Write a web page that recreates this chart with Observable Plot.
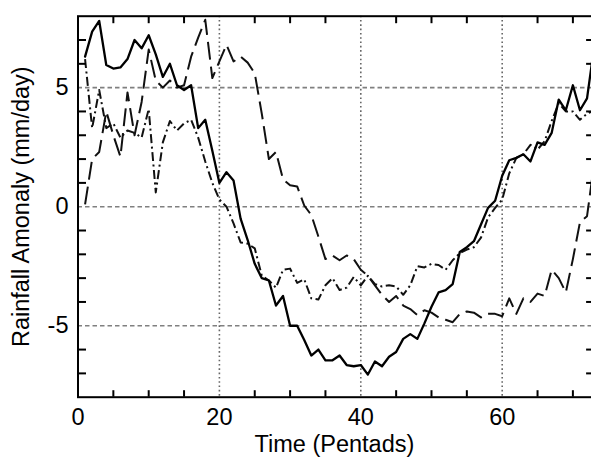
<!DOCTYPE html>
<html><head><meta charset="utf-8">
<script src="https://cdn.jsdelivr.net/npm/d3@7"></script>
<script src="https://cdn.jsdelivr.net/npm/@observablehq/plot@0.6"></script>
<style>
html,body{margin:0;padding:0;background:#fff;overflow:hidden;}
#chart svg{overflow:hidden;}
</style></head><body><div id="chart"></div>
<script>
// Rainfall anomaly (mm/day) per pentad 1..73, three series
const solidSeries = [6.3,7.35,7.8,5.95,5.8,5.85,6.2,7.0,6.65,7.2,6.4,5.45,6.0,5.1,4.9,5.1,3.3,3.65,2.35,1.0,
  1.45,1.1,-0.5,-1.4,-2.4,-3.0,-3.1,-4.15,-3.75,-5.0,-5.0,-5.6,-6.25,-6.0,-6.45,-6.45,-6.25,-6.65,-6.7,-6.65,
  -7.05,-6.5,-6.7,-6.3,-6.1,-5.55,-5.35,-5.55,-4.9,-4.2,-3.6,-3.5,-3.25,-1.9,-1.7,-1.45,-0.75,-0.05,0.25,1.3,
  1.95,2.05,2.2,1.9,2.7,2.6,3.1,4.5,4.05,5.1,4.05,4.55,6.7];
const dashedSeries = [0.1,2.0,2.3,4.0,3.0,2.1,4.8,3.0,4.4,6.6,5.3,5.0,5.3,5.0,5.1,6.3,7.1,7.85,5.4,6.1,
  6.8,6.1,6.3,6.05,5.6,3.9,2.0,2.3,1.15,0.9,0.85,0.05,-0.35,-1.25,-2.2,-2.05,-2.25,-2.05,-2.2,-2.65,
  -2.9,-3.3,-3.7,-4.0,-3.75,-4.15,-4.3,-4.55,-4.35,-4.45,-4.65,-4.75,-4.85,-4.5,-4.4,-4.45,-4.65,-4.5,-4.5,-4.6,
  -3.85,-4.5,-3.85,-4.0,-3.65,-3.75,-2.65,-3.0,-3.6,-2.2,-0.65,-0.4,1.8];
const dashDotSeries = [6.2,3.3,4.9,3.3,3.5,2.9,3.2,3.1,2.9,4.1,0.6,2.7,3.6,3.2,3.5,3.65,2.9,1.9,1.0,0.3,
  0.0,-0.7,-1.5,-1.55,-1.75,-2.9,-3.1,-3.4,-2.65,-2.6,-3.2,-3.05,-3.85,-3.9,-3.3,-3.0,-3.5,-3.4,-2.95,-3.3,
  -2.9,-3.25,-3.35,-3.3,-3.35,-3.7,-3.3,-2.5,-2.55,-2.4,-2.45,-2.65,-2.25,-1.95,-1.8,-1.7,-1.3,-0.45,-0.05,0.3,
  1.4,2.05,2.2,2.6,2.4,2.75,3.6,4.35,4.0,4.0,3.65,3.9,4.05];

const xDomain = [0, 73];
const yDomain = [-8, 8];
const xLabelTicks = [0, 20, 40, 60];
const yLabelTicks = [-5, 0, 5];
const xGridTicks = [20, 40, 60];
const yGridTicks = [-5, 0, 5];
const xMinorTicks = [5, 10, 15, 25, 30, 35, 45, 50, 55, 65, 70];
const yMinorTicks = [-7, -6, -4, -3, -2, -1, 1, 2, 3, 4, 6, 7];
const xTitle = "Time (Pentads)";
const yTitle = "Rainfall Amonaly (mm/day)";

const rows = (vals) => vals.map((v, i) => ({pentad: i + 1, value: v}));
const font = "'Liberation Sans', Arial, Helvetica, sans-serif";
const fs = 23.5;

const chart = Plot.plot({
  width: 591,
  height: 462,
  marginLeft: 77.5,
  marginRight: -2.6,
  marginTop: 15.7,
  marginBottom: 65.3,
  style: {fontFamily: font, fontSize: fs + "px", color: "#000", background: "#fff"},
  x: {domain: xDomain},
  y: {domain: yDomain},
  marks: [
    Plot.ruleY(yGridTicks, {stroke: "#808080", strokeWidth: 1.6, strokeDasharray: "4.5,3"}),
    Plot.ruleX(xGridTicks, {stroke: "#666", strokeWidth: 1.6, strokeDasharray: "1.6,2.7"}),
    Plot.line(rows(dashDotSeries), {x: "pentad", y: "value", stroke: "#111", strokeWidth: 2, strokeDasharray: "9,3.5,2,3.5", strokeLinecap: "butt", strokeLinejoin: "round"}),
    Plot.line(rows(dashedSeries), {x: "pentad", y: "value", stroke: "#111", strokeWidth: 2, strokeDasharray: "18,7", strokeLinecap: "butt", strokeLinejoin: "round"}),
    Plot.line(rows(solidSeries), {x: "pentad", y: "value", stroke: "#000", strokeWidth: 2.3, strokeLinejoin: "round"}),
    Plot.axisX(xMinorTicks, {anchor: "bottom", tickSize: -6.5, strokeWidth: 2, tickFormat: () => "", label: null}),
    Plot.axisX(xMinorTicks, {anchor: "top", tickSize: -6.5, strokeWidth: 2, tickFormat: () => "", label: null}),
    Plot.axisY(yMinorTicks, {anchor: "left", tickSize: -8.5, strokeWidth: 2, tickFormat: () => "", label: null}),
    Plot.axisY(yMinorTicks, {anchor: "right", tickSize: -8.5, strokeWidth: 2, tickFormat: () => "", label: null}),
    Plot.axisX(xLabelTicks, {anchor: "bottom", tickSize: 0, tickPadding: 11.5, fontSize: fs, label: null}),
    Plot.axisY(yLabelTicks, {anchor: "left", tickSize: 0, tickPadding: 9.5, fontSize: fs, label: null, tickFormat: d => String(d)}),
    Plot.frame({stroke: "#000", strokeWidth: 2}),
    Plot.text([xTitle], {frameAnchor: "bottom", dy: 47.5, dx: -1.6, fontSize: fs, textAnchor: "middle", lineAnchor: "middle", fill: "#000"}),
    Plot.text([yTitle], {frameAnchor: "left", dx: -56.5, rotate: -90, fontSize: fs, textAnchor: "middle", lineAnchor: "middle", fill: "#000"})
  ]
});
document.getElementById("chart").appendChild(chart);
</script>
</body></html>
